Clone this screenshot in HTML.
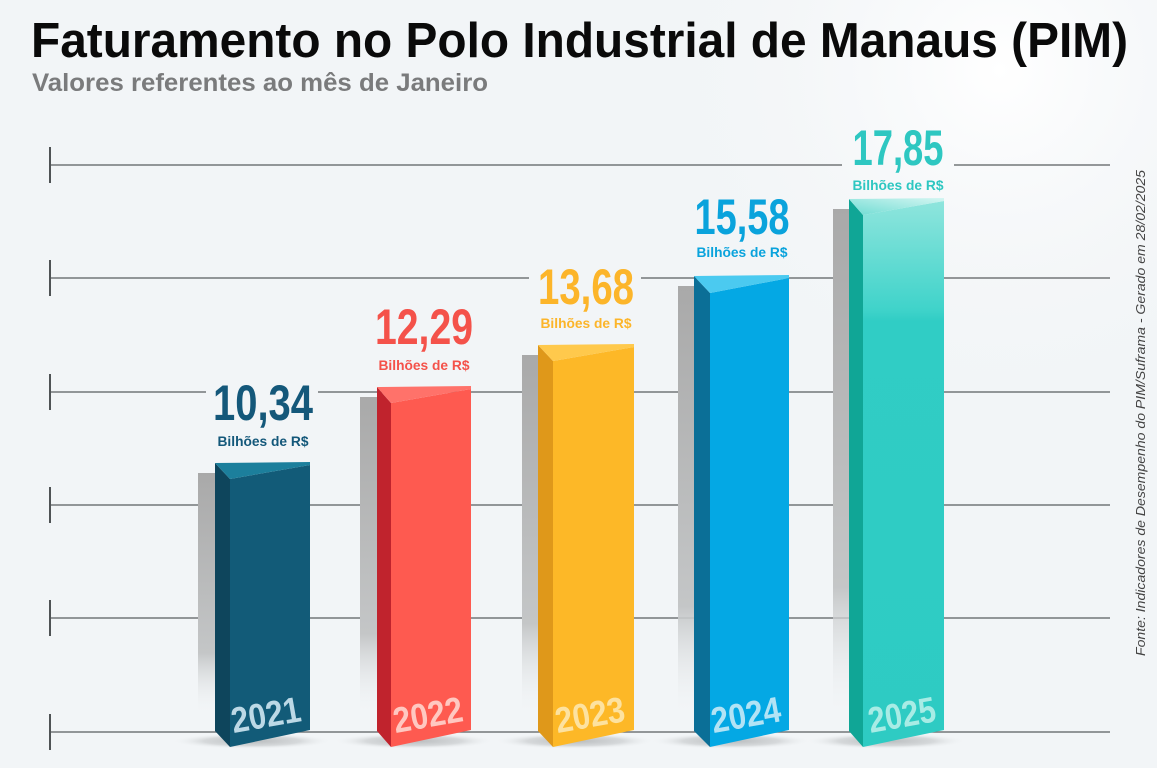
<!DOCTYPE html>
<html>
<head>
<meta charset="utf-8">
<style>
html,body{margin:0;padding:0;background:#f2f5f7;}
svg{display:block;}
text{font-family:"Liberation Sans",sans-serif;}
</style>
</head>
<body>
<svg width="1157" height="768" viewBox="0 0 1157 768" xmlns="http://www.w3.org/2000/svg">
<defs>
<radialGradient id="glow" cx="1000" cy="70" r="360" gradientUnits="userSpaceOnUse">
<stop offset="0" stop-color="#ffffff" stop-opacity="1"/>
<stop offset="1" stop-color="#f2f5f7" stop-opacity="0"/>
</radialGradient>
<linearGradient id="sh" x1="0" y1="0" x2="0" y2="1">
<stop offset="0" stop-color="#a9a9a9"/>
<stop offset="0.75" stop-color="#c4c6c7"/>
<stop offset="1" stop-color="#eef1f3" stop-opacity="0"/>
</linearGradient>
<radialGradient id="floor" cx="0.5" cy="0.5" r="0.5">
<stop offset="0" stop-color="#b9bcbe"/>
<stop offset="0.6" stop-color="#d6d9db"/>
<stop offset="1" stop-color="#f2f5f7" stop-opacity="0"/>
</radialGradient>
<linearGradient id="top25" x1="0" y1="1" x2="1" y2="0">
<stop offset="0" stop-color="#6fdcd3"/>
<stop offset="1" stop-color="#d4f6f2"/>
</linearGradient>
<linearGradient id="front25" x1="0" y1="0" x2="0" y2="1">
<stop offset="0" stop-color="#8fe5dd"/>
<stop offset="0.2" stop-color="#3fd3ca"/>
<stop offset="0.22" stop-color="#30cdc5"/>
<stop offset="1" stop-color="#2ecbc3"/>
</linearGradient>
<mask id="gm" maskUnits="userSpaceOnUse" x="0" y="0" width="1157" height="768">
<rect width="1157" height="768" fill="#fff"/>
<rect x="206" y="380" width="112" height="70" fill="#000"/>
<rect x="368" y="304" width="112" height="70" fill="#000"/>
<rect x="529" y="262" width="112" height="70" fill="#000"/>
<rect x="685" y="193" width="112" height="70" fill="#000"/>
<rect x="842" y="122" width="112" height="72" fill="#000"/>
</mask>
</defs>
<rect width="1157" height="768" fill="#f2f5f7"/>
<rect width="1157" height="768" fill="url(#glow)"/>

<!-- gridlines -->
<g stroke="#737779" stroke-width="1.5" mask="url(#gm)">
<line x1="50" y1="165" x2="1110" y2="165"/>
<line x1="50" y1="278" x2="1110" y2="278"/>
<line x1="50" y1="392" x2="1110" y2="392"/>
<line x1="50" y1="505" x2="1110" y2="505"/>
<line x1="50" y1="618" x2="1110" y2="618"/>
<line x1="50" y1="732" x2="1110" y2="732"/>
</g>
<g stroke="#4f5355" stroke-width="2">
<line x1="50" y1="147" x2="50" y2="183"/>
<line x1="50" y1="260" x2="50" y2="296"/>
<line x1="50" y1="374" x2="50" y2="410"/>
<line x1="50" y1="487" x2="50" y2="523"/>
<line x1="50" y1="600" x2="50" y2="636"/>
<line x1="50" y1="714" x2="50" y2="750"/>
</g>

<!-- Title -->
<text x="31" y="57" font-size="49" font-weight="bold" fill="#0a0a0a" textLength="1097" lengthAdjust="spacingAndGlyphs">Faturamento no Polo Industrial de Manaus (PIM)</text>
<text x="32" y="91" font-size="25" font-weight="bold" fill="#7a7b7c" textLength="456" lengthAdjust="spacingAndGlyphs">Valores referentes ao mês de Janeiro</text>

<!-- Source -->
<text transform="translate(1145,656) rotate(-90)" font-size="13" font-style="italic" fill="#444" textLength="486" lengthAdjust="spacingAndGlyphs">Fonte: Indicadores de Desempenho do PIM/Suframa - Gerado em 28/02/2025</text>

<!-- Bar 2021 -->
<g>
<ellipse cx="252" cy="741" rx="80" ry="8" fill="url(#floor)"/>
<rect x="198" y="473" width="20" height="240" fill="url(#sh)"/>
<polygon points="215,463 230,479 230,747 215,731" fill="#0e455c"/>
<polygon points="230,479 310,465 310,730 230,747" fill="#125b78"/>
<polygon points="215,463 310,462 310,465 230,479" fill="#1c7f9c"/>
<text transform="translate(268,727) rotate(-10)" text-anchor="middle" font-size="36" font-weight="bold" fill="#bcd9e6" textLength="70" lengthAdjust="spacingAndGlyphs">2021</text>
<text x="263" y="420" text-anchor="middle" font-size="50" font-weight="bold" fill="#14587a" textLength="100" lengthAdjust="spacingAndGlyphs">10,34</text>
<text x="263" y="446" text-anchor="middle" font-size="14" font-weight="bold" fill="#14587a" textLength="91" lengthAdjust="spacingAndGlyphs">Bilhões de R$</text>
</g>

<!-- Bar 2022 -->
<g>
<ellipse cx="414" cy="741" rx="80" ry="8" fill="url(#floor)"/>
<rect x="360" y="397" width="20" height="316" fill="url(#sh)"/>
<polygon points="377,387 391,403 391,747 377,731" fill="#c0232d"/>
<polygon points="391,403 471,389 471,730 391,747" fill="#fe5a50"/>
<polygon points="377,387 471,386 471,389 391,403" fill="#ff726a"/>
<text transform="translate(430,727) rotate(-10)" text-anchor="middle" font-size="36" font-weight="bold" fill="#ffc8c1" textLength="70" lengthAdjust="spacingAndGlyphs">2022</text>
<text x="424" y="344" text-anchor="middle" font-size="50" font-weight="bold" fill="#f4524a" textLength="98" lengthAdjust="spacingAndGlyphs">12,29</text>
<text x="424" y="370" text-anchor="middle" font-size="14" font-weight="bold" fill="#f4524a" textLength="91" lengthAdjust="spacingAndGlyphs">Bilhões de R$</text>
</g>

<!-- Bar 2023 -->
<g>
<ellipse cx="575" cy="741" rx="80" ry="8" fill="url(#floor)"/>
<rect x="522" y="355" width="20" height="358" fill="url(#sh)"/>
<polygon points="538,345 553,361 553,747 538,731" fill="#df981a"/>
<polygon points="553,361 634,347 634,730 553,747" fill="#fdb827"/>
<polygon points="538,345 634,344 634,347 553,361" fill="#ffc94c"/>
<text transform="translate(592,727) rotate(-10)" text-anchor="middle" font-size="36" font-weight="bold" fill="#fde2a0" textLength="70" lengthAdjust="spacingAndGlyphs">2023</text>
<text x="586" y="304" text-anchor="middle" font-size="50" font-weight="bold" fill="#fcb52a" textLength="96" lengthAdjust="spacingAndGlyphs">13,68</text>
<text x="586" y="328" text-anchor="middle" font-size="14" font-weight="bold" fill="#fcb52a" textLength="91" lengthAdjust="spacingAndGlyphs">Bilhões de R$</text>
</g>

<!-- Bar 2024 -->
<g>
<ellipse cx="731" cy="741" rx="80" ry="8" fill="url(#floor)"/>
<rect x="678" y="286" width="20" height="427" fill="url(#sh)"/>
<polygon points="694,276 710,293 710,747 694,731" fill="#0b6f97"/>
<polygon points="710,293 789,278 789,730 710,747" fill="#04a8e4"/>
<polygon points="694,276 789,275 789,278 710,293" fill="#4bcaf0"/>
<text transform="translate(748,727) rotate(-10)" text-anchor="middle" font-size="36" font-weight="bold" fill="#b2e3f5" textLength="70" lengthAdjust="spacingAndGlyphs">2024</text>
<text x="742" y="234" text-anchor="middle" font-size="50" font-weight="bold" fill="#0aa3dc" textLength="95" lengthAdjust="spacingAndGlyphs">15,58</text>
<text x="742" y="257" text-anchor="middle" font-size="14" font-weight="bold" fill="#0aa3dc" textLength="91" lengthAdjust="spacingAndGlyphs">Bilhões de R$</text>
</g>

<!-- Bar 2025 -->
<g>
<ellipse cx="886" cy="741" rx="80" ry="8" fill="url(#floor)"/>
<rect x="833" y="209" width="20" height="504" fill="url(#sh)"/>
<polygon points="849,199 863,215 863,747 849,731" fill="#10a696"/>
<polygon points="863,215 944,201 944,730 863,747" fill="url(#front25)"/>
<polygon points="849,199 944,198 944,201 863,215" fill="url(#top25)"/>
<text transform="translate(904,727) rotate(-10)" text-anchor="middle" font-size="36" font-weight="bold" fill="#a8ece5" textLength="68" lengthAdjust="spacingAndGlyphs">2025</text>
<text x="898" y="165" text-anchor="middle" font-size="50" font-weight="bold" fill="#2ec7c1" textLength="91" lengthAdjust="spacingAndGlyphs">17,85</text>
<text x="898" y="190" text-anchor="middle" font-size="14" font-weight="bold" fill="#2ec7c1" textLength="91" lengthAdjust="spacingAndGlyphs">Bilhões de R$</text>
</g>
</svg>
</body>
</html>
